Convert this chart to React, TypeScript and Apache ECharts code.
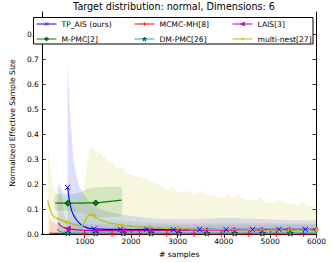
import React, { useEffect, useRef } from "react";
import * as echarts from "echarts";

// ---------- data ----------
const xTickValues = [1000, 2000, 3000, 4000, 5000, 6000];
const yTickValues = [0, 0.1, 0.2, 0.3, 0.4, 0.5, 0.6, 0.7, 0.8];

// TP_AIS (ours)
const tpX = [630, 660, 690, 720, 750, 790, 830, 880, 930, 1000, 1080, 1200, 1350, 1500, 1770, 2050, 2340, 2620, 2910, 3200, 3480, 3770, 4050, 4340, 4620, 4900, 5190, 5480, 5760, 6000];
const tpMean = [0.187, 0.145, 0.114, 0.093, 0.079, 0.066, 0.055, 0.045, 0.036, 0.029, 0.024, 0.021, 0.02, 0.019, 0.019, 0.018, 0.019, 0.019, 0.018, 0.019, 0.019, 0.019, 0.018, 0.019, 0.019, 0.019, 0.019, 0.019, 0.019, 0.019];
const tpUpper = [0.69, 0.58, 0.465, 0.4, 0.31, 0.26, 0.225, 0.195, 0.175, 0.155, 0.135, 0.115, 0.1, 0.09, 0.08, 0.072, 0.066, 0.062, 0.06, 0.06, 0.062, 0.064, 0.065, 0.064, 0.062, 0.06, 0.058, 0.056, 0.055, 0.054];
const tpMarkers = [630, 1200, 1770, 2340, 2910, 3480, 4050, 4620, 5190, 5760];

// M-PMC[2]
const mpX = [365, 500, 635, 750, 850, 950, 1050, 1150, 1237, 1350, 1450, 1550, 1650, 1791];
const mpMean = [0.124, 0.124, 0.124, 0.124, 0.124, 0.124, 0.125, 0.125, 0.125, 0.127, 0.129, 0.131, 0.133, 0.136];
const mpUpper = [0.158, 0.16, 0.161, 0.162, 0.165, 0.172, 0.18, 0.186, 0.188, 0.189, 0.19, 0.19, 0.19, 0.188];
const mpLower = [0.095, 0.094, 0.093, 0.092, 0.089, 0.083, 0.075, 0.07, 0.068, 0.067, 0.067, 0.068, 0.07, 0.074];
const mpMarkers = [635, 1237];

// MCMC-MH[8]
const mhX = [240, 300, 400, 500, 600, 700, 800, 1000, 1300, 1590, 1900, 2180, 2500, 2770, 3100, 3360, 3700, 3950, 4300, 4540, 4900, 5130, 5500, 5720, 6000];
const mhMean = [0.004, 0.003, 0.003, 0.002, 0.002, 0.002, 0.002, 0.001, 0.001, 0.001, 0.001, 0.001, 0.001, 0.001, 0.001, 0.001, 0.001, 0.001, 0.001, 0.001, 0.001, 0.001, 0.001, 0.001, 0.001];
const mhUpper = [0.06, 0.05, 0.04, 0.035, 0.03, 0.025, 0.02, 0.015, 0.012, 0.011, 0.01, 0.01, 0.01, 0.01, 0.01, 0.01, 0.01, 0.01, 0.01, 0.01, 0.01, 0.01, 0.01, 0.01, 0.01];
const mhMarkers = [1000, 1590, 2180, 2770, 3360, 3950, 4540, 5130, 5720];

// DM-PMC[26]
const dmX = [400, 450, 500, 550, 635, 700, 800, 900, 1000, 1235, 1500, 1835, 2100, 2435, 2700, 3035, 3300, 3635, 3900, 4235, 4500, 4835, 5100, 5435, 5700, 6000];
const dmMean = [0.02, 0.012, 0.008, 0.006, 0.005, 0.004, 0.004, 0.004, 0.004, 0.004, 0.004, 0.004, 0.004, 0.004, 0.004, 0.004, 0.004, 0.004, 0.004, 0.004, 0.004, 0.004, 0.004, 0.004, 0.004, 0.004];
const dmUpper = [0.19, 0.185, 0.18, 0.17, 0.15, 0.13, 0.1, 0.085, 0.075, 0.065, 0.06, 0.055, 0.05, 0.046, 0.044, 0.043, 0.043, 0.044, 0.045, 0.046, 0.045, 0.044, 0.043, 0.042, 0.041, 0.04];
const dmMarkers = [635, 1235, 1835, 2435, 3035, 3635, 4235, 4835, 5435];

// LAIS[3]
const laX = [430, 470, 510, 550, 600, 635, 700, 800, 950, 1100, 1227, 1500, 1819, 2100, 2411, 2700, 3003, 3300, 3595, 3900, 4187, 4500, 4779, 5100, 5371, 5700, 5963];
const laMean = [0.045, 0.035, 0.03, 0.026, 0.024, 0.022, 0.02, 0.018, 0.016, 0.015, 0.014, 0.014, 0.013, 0.014, 0.014, 0.015, 0.015, 0.016, 0.016, 0.016, 0.017, 0.017, 0.017, 0.018, 0.018, 0.018, 0.018];
const laUpper = [0.21, 0.2, 0.17, 0.08, 0.06, 0.055, 0.05, 0.045, 0.042, 0.04, 0.039, 0.038, 0.037, 0.037, 0.037, 0.037, 0.037, 0.037, 0.038, 0.038, 0.038, 0.038, 0.038, 0.038, 0.038, 0.038, 0.038];
const laMarkers = [635, 1227, 1819, 2411, 3003, 3595, 4187, 4779, 5371, 5963];

// multi-nest[27]
const mnX = [200, 250, 300, 350, 400, 450, 500, 600, 700, 800, 900, 960, 1000, 1050, 1100, 1150, 1200, 1250, 1300, 1350, 1400, 1450, 1500, 1600, 1700, 1800, 1900, 2000, 2100, 2200, 2300, 2400, 2500, 2600, 2700, 2800, 2900, 3000, 3100, 3200, 3300, 3400, 3500, 3600, 3700, 3800, 3900, 4000, 4100, 4200, 4300, 4400, 4500, 4600, 4700, 4800, 4900, 5000, 5100, 5200, 5300, 5400, 5500, 5600, 5700, 5800, 5900, 6000];
const mnMean = [0.135, 0.1, 0.077, 0.068, 0.063, 0.06, 0.056, 0.048, 0.043, 0.037, 0.032, 0.035, 0.05, 0.068, 0.078, 0.08, 0.074, 0.065, 0.06, 0.055, 0.052, 0.05, 0.045, 0.042, 0.04, 0.036, 0.033, 0.034, 0.028, 0.03, 0.027, 0.028, 0.024, 0.026, 0.023, 0.024, 0.021, 0.023, 0.02, 0.022, 0.019, 0.021, 0.018, 0.02, 0.017, 0.019, 0.018, 0.02, 0.017, 0.019, 0.016, 0.018, 0.017, 0.019, 0.016, 0.018, 0.015, 0.017, 0.016, 0.018, 0.015, 0.017, 0.016, 0.017, 0.015, 0.017, 0.016, 0.017];
const mnUpper = [0.354, 0.28, 0.2, 0.17, 0.16, 0.15, 0.145, 0.14, 0.135, 0.13, 0.14, 0.16, 0.2, 0.28, 0.33, 0.35, 0.34, 0.33, 0.32, 0.325, 0.305, 0.31, 0.29, 0.285, 0.265, 0.27, 0.245, 0.24, 0.235, 0.225, 0.225, 0.21, 0.205, 0.2, 0.19, 0.175, 0.19, 0.17, 0.168, 0.175, 0.163, 0.16, 0.175, 0.158, 0.155, 0.157, 0.15, 0.148, 0.162, 0.145, 0.16, 0.142, 0.14, 0.138, 0.136, 0.145, 0.13, 0.128, 0.126, 0.14, 0.124, 0.122, 0.12, 0.118, 0.13, 0.116, 0.114, 0.112];
const mnMarkers = [600, 1200, 1800, 2400, 3000, 3600, 4200, 4800, 5400, 6000];

// ---------- styling ----------
const FONT = "DejaVu Sans";
const X_MIN = 75;
const X_MAX = 6000;
const Y_MIN = 0;
const Y_MAX = 0.89;

const SYM_X = "path://M0,0L10,10M10,0L0,10";
const SYM_PLUS = "path://M5,0L5,10M0,5L10,5";
const SYM_LEFT = "path://M0,5L10,0L10,10Z";
const SYM_DIAMOND = "path://M5,0L10,5L5,10L0,5Z";
const SYM_STAR = "path://M5,0L6.2,3.6L10,3.6L6.9,5.9L8.1,9.5L5,7.3L1.9,9.5L3.1,5.9L0,3.6L3.8,3.6Z";

function band(name: string, xs: number[], upper: number[], lower: number[] | null, color: string, opacity: number, smooth = 0) {
  return {
    type: "custom",
    name,
    silent: true,
    z: 1,
    clip: true,
    data: [[xs[0], upper[0]]],
    renderItem: (_params: any, api: any) => {
      const top = xs.map((x, i) => api.coord([x, upper[i]]));
      const bot = xs.map((x, i) => api.coord([x, lower ? lower[i] : 0])).reverse();
      return {
        type: "polygon",
        shape: { points: top.concat(bot), smooth },
        style: { fill: color, opacity },
      };
    },
  };
}

function line(name: string, xs: number[], ys: number[], markers: number[], color: string, symbol: string, size: number, filled: boolean, edge: string) {
  return {
    type: "line",
    name,
    z: 2,
    symbol,
    symbolSize: size,
    showSymbol: true,
    lineStyle: { color, width: 1.1 },
    itemStyle: filled
      ? { color, borderColor: edge, borderWidth: 0.6 }
      : { color, borderColor: color, borderWidth: 1 },
    data: xs.map((x, i) => ({
      value: [x, ys[i]],
      symbol: markers.includes(x) ? symbol : "none",
    })),
  };
}

export default function App() {
  const ref = useRef<HTMLDivElement>(null);
  useEffect(() => {
    if (!ref.current) return;
    const chart = echarts.init(ref.current, null, { renderer: "svg" });
    const axisCommon = {
      axisLine: { show: true, lineStyle: { color: "#000", width: 1 } },
      axisTick: { show: true, inside: true, length: 4, lineStyle: { color: "#000", width: 0.8 } },
      splitLine: { show: false },
    };
    chart.setOption({
      animation: false,
      backgroundColor: "#fff",
      textStyle: { fontFamily: FONT },
      title: {
        text: "Target distribution: normal, Dimensions: 6",
        left: 174,
        textAlign: "center",
        top: 1,
        padding: 0,
        textStyle: { fontSize: 9.6, fontWeight: "normal", color: "#000", fontFamily: FONT },
      },
      grid: { left: 31, right: 15.5, top: 12, bottom: 25.7, containLabel: false },
      xAxis: [
        {
          type: "value",
          min: X_MIN,
          max: X_MAX,
          position: "bottom",
          name: "# samples",
          nameLocation: "middle",
          nameGap: 12,
          nameTextStyle: { fontSize: 7.6, color: "#000", fontFamily: FONT },
          ...axisCommon,
          axisTick: { ...axisCommon.axisTick, customValues: xTickValues },
          axisLabel: {
            customValues: xTickValues,
            fontSize: 7.5,
            color: "#000",
            margin: 3,
            fontFamily: FONT,
            formatter: (v: number) => String(Math.round(v)),
          },
        },
        {
          type: "value",
          min: X_MIN,
          max: X_MAX,
          position: "top",
          ...axisCommon,
          axisTick: { ...axisCommon.axisTick, customValues: xTickValues },
          axisLabel: { show: false },
        },
      ],
      yAxis: [
        {
          type: "value",
          min: Y_MIN,
          max: Y_MAX,
          position: "left",
          name: "Normalized Effective Sample Size",
          nameLocation: "middle",
          nameGap: 18,
          nameTextStyle: { fontSize: 7.6, color: "#000", fontFamily: FONT },
          ...axisCommon,
          axisTick: { ...axisCommon.axisTick, customValues: yTickValues },
          axisLabel: {
            customValues: yTickValues,
            fontSize: 7.5,
            color: "#000",
            margin: 3,
            fontFamily: FONT,
            formatter: (v: number) => v.toFixed(1),
          },
        },
        {
          type: "value",
          min: Y_MIN,
          max: Y_MAX,
          position: "right",
          ...axisCommon,
          axisTick: { ...axisCommon.axisTick, customValues: yTickValues },
          axisLabel: { show: false },
        },
      ],
      legend: [
        { names: ["TP_AIS (ours)", "M-PMC[2]"], left: 36 },
        { names: ["MCMC-MH[8]", "DM-PMC[26]"], left: 134 },
        { names: ["LAIS[3]", "multi-nest[27]"], left: 232 },
      ].map((l) => ({
        data: l.names,
        left: l.left,
        top: 20,
        orient: "vertical",
        padding: 0,
        itemWidth: 20,
        itemHeight: 5,
        itemGap: 7,
        z: 5,
        lineStyle: { width: 1 },
        itemStyle: { borderWidth: 0.6 },
        textStyle: { fontSize: 7.6, color: "#000", fontFamily: FONT, padding: [0, 0, 0, 0] },
      })),
      graphic: [
        {
          type: "rect",
          z: 4,
          shape: { x: 33.5, y: 17.5, width: 279.5, height: 26.5 },
          style: { fill: "#fff", stroke: "#000", lineWidth: 1 },
        },
      ],
      series: [
        band("TP_AIS band", tpX, tpUpper, null, "#0000ff", 0.13),
        band("M-PMC band", mpX, mpUpper, mpLower, "#008000", 0.15, 0.3),
        band("MCMC-MH band", mhX, mhUpper, null, "#ff0000", 0.12),
        band("DM-PMC band", dmX, dmUpper, null, "#00bfbf", 0.12),
        band("LAIS band", laX, laUpper, null, "#bf00bf", 0.12),
        band("multi-nest band", mnX, mnUpper, null, "#bfbf00", 0.12),
        line("TP_AIS (ours)", tpX, tpMean, tpMarkers, "#0000ff", SYM_X, 5, false, "#0000ff"),
        line("M-PMC[2]", mpX, mpMean, mpMarkers, "#008000", SYM_DIAMOND, 6, true, "#000"),
        line("MCMC-MH[8]", mhX, mhMean, mhMarkers, "#ff0000", SYM_PLUS, 6, false, "#ff0000"),
        line("DM-PMC[26]", dmX, dmMean, dmMarkers, "#00bfbf", SYM_STAR, 6, true, "#000"),
        line("LAIS[3]", laX, laMean, laMarkers, "#bf00bf", SYM_LEFT, 5, true, "#bf00bf"),
        line("multi-nest[27]", mnX, mnMean, mnMarkers, "#bfbf00", SYM_PLUS, 5, false, "#bfbf00"),
      ],
    });
    return () => chart.dispose();
  }, []);
  return (
    <div
      ref={ref}
      style={{ position: "fixed", left: 0, top: 0, width: 332, height: 263, background: "#fff" }}
    />
  );
}
